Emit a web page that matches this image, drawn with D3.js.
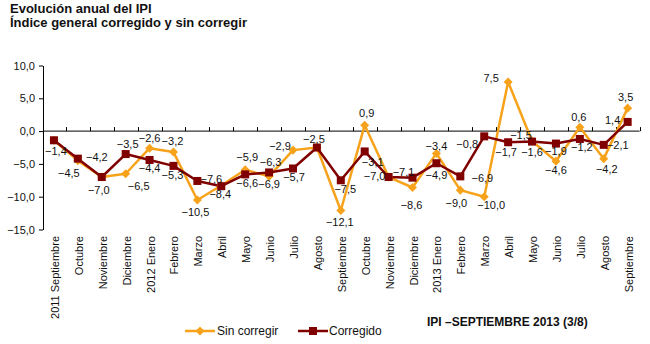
<!DOCTYPE html>
<html>
<head>
<meta charset="utf-8">
<script src="https://cdn.jsdelivr.net/npm/d3@7"></script>
<style>
  html, body { margin: 0; padding: 0; background: #fff; }
  svg { display: block; font-family: "Liberation Sans", Arial, sans-serif; }
</style>
</head>
<body>
<svg id="chart" width="650" height="344"></svg>
<script>
// Monthly categories, Sept 2011 – Sept 2013
const months = [
  "2011 Septiembre", "Octubre", "Noviembre", "Diciembre",
  "2012 Enero", "Febrero", "Marzo", "Abril", "Mayo", "Junio", "Julio", "Agosto",
  "Septiembre", "Octubre", "Noviembre", "Diciembre",
  "2013 Enero", "Febrero", "Marzo", "Abril", "Mayo", "Junio", "Julio", "Agosto",
  "Septiembre"
];

// Year-on-year change of the IPI (%)
const sinCorregir = [-1.4, -4.5, -7.0, -6.5, -2.6, -3.2, -10.5, -8.3, -5.9, -6.9, -2.9, -2.5,
                     -12.1, 0.9, -7.0, -8.6, -3.4, -9.0, -10.0, 7.5, -1.5, -4.6, 0.6, -4.2, 3.5];
const corregido   = [-1.4, -4.2, -7.0, -3.5, -4.4, -5.3, -7.6, -8.4, -6.6, -6.3, -5.7, -2.5,
                     -7.5, -3.1, -7.0, -7.1, -4.9, -6.9, -0.8, -1.7, -1.6, -1.9, -1.2, -2.1, 1.4];

const yTicks = [-15, -10, -5, 0, 5, 10];

// Where each value label sits relative to its marker [dx, dy]; null = no label
const nudgeSin = [[2, 11], [-9, 12], [-3, 13], [13, 12], [0, -10], [-1, -11], [-2, 12], null,
                  [2, -13], [0, 8], [-13, -4], [-3, -9], [-1, 12], [2, -12], [-14, -1], [-1, 17],
                  [0, -7], [-4, 13], [7, 8], [-17, -4], [-11, -6], [0, 9], [-1, -10], [3, 10], [-2, -11]];
const nudgeCor = [null, [19, -2], null, [2, -10], [0, 8], [-1, 9], [14, -2], [-1, 8],
                  [2, 8.5], [1.5, -10], [1, 8.5], null, [4.5, 9], [8, 11], null, [-9, -6],
                  [0, 12], [22, 2], [-17, 8], [-2, 9.5], [0, 10], [0, 7], [2, 8.5], [14, 0], [-15, -2]];

const ORANGE = "#F7A21B";
const MAROON = "#800000";

const svg = d3.select("#chart");
const fmt = v => d3.format(".1f")(v).replace(".", ",");

const x = d3.scaleBand().domain(d3.range(months.length)).range([42, 639.6]).padding(0);
const cx = i => x(i) + x.bandwidth() / 2;
const y = d3.scaleLinear().domain([-15, 10]).range([229.5, 65.5]);

// Titles
svg.append("text").attr("x", 10).attr("y", 13)
  .attr("font-size", 13).attr("font-weight", "bold").attr("fill", "#111")
  .text("Evolución anual del IPI");
svg.append("text").attr("x", 10).attr("y", 27)
  .attr("font-size", 13).attr("font-weight", "bold").attr("fill", "#111")
  .text("Índice general corregido y sin corregir");

// Value axis
const yAxis = svg.append("g").attr("transform", "translate(43,0)")
  .call(d3.axisLeft(y).tickValues(yTicks).tickSize(4).tickSizeOuter(0).tickFormat(fmt));
yAxis.select(".domain").attr("stroke", "#000");
yAxis.selectAll(".tick line").attr("stroke", "#000");
yAxis.selectAll(".tick text").attr("font-size", 11).attr("fill", "#111")
  .attr("font-family", "Liberation Sans, Arial, sans-serif").attr("x", -8);

// Category axis along zero
const catAxis = svg.append("g");
catAxis.append("line")
  .attr("x1", 43).attr("x2", x.range()[1]).attr("y1", y(0)).attr("y2", y(0))
  .attr("stroke", "#000");
catAxis.selectAll("line.tk").data(d3.range(1, months.length + 1)).join("line")
  .attr("class", "tk")
  .attr("x1", i => Math.round(x(0) + i * x.bandwidth()) + 0.5)
  .attr("x2", i => Math.round(x(0) + i * x.bandwidth()) + 0.5)
  .attr("y1", y(0) - 4).attr("y2", y(0))
  .attr("stroke", "#000");

// Month labels, rotated, hanging below the plot
svg.append("g").selectAll("text").data(months).join("text")
  .attr("transform", (d, i) => `translate(${cx(i) + 5},236) rotate(-90)`)
  .attr("text-anchor", "end")
  .attr("font-size", 11).attr("fill", "#111")
  .text(d => d);

// Lines
const line = d3.line().x((d, i) => cx(i)).y(d => y(d));
svg.append("path").datum(sinCorregir).attr("d", line)
  .attr("fill", "none").attr("stroke", ORANGE).attr("stroke-width", 2.5).attr("stroke-linejoin", "round");
svg.append("path").datum(corregido).attr("d", line)
  .attr("fill", "none").attr("stroke", MAROON).attr("stroke-width", 2.5).attr("stroke-linejoin", "round");

// Markers
const diamond = d3.symbol().type(d3.symbolDiamond2).size(52);
svg.append("g").selectAll("path").data(sinCorregir).join("path")
  .attr("d", diamond)
  .attr("transform", (d, i) => `translate(${cx(i)},${y(d)}) rotate(0)`)
  .attr("fill", ORANGE);
svg.append("g").selectAll("rect").data(corregido).join("rect")
  .attr("x", (d, i) => cx(i) - 4).attr("y", d => y(d) - 4)
  .attr("width", 8).attr("height", 8)
  .attr("fill", MAROON);

// Value labels
function labels(values, nudges) {
  svg.append("g").selectAll("text")
    .data(values.map((v, i) => ({ v, i, n: nudges[i] })).filter(d => d.n))
    .join("text")
    .attr("x", d => cx(d.i) + d.n[0])
    .attr("y", d => y(d.v) + d.n[1])
    .attr("text-anchor", "middle")
    .attr("dominant-baseline", "central")
    .attr("font-size", 11).attr("fill", "#111")
    .text(d => fmt(d.v));
}
labels(sinCorregir, nudgeSin);
labels(corregido, nudgeCor);

// Legend
const leg = svg.append("g");
leg.append("line").attr("x1", 185).attr("x2", 215).attr("y1", 331).attr("y2", 331)
  .attr("stroke", ORANGE).attr("stroke-width", 2.5);
leg.append("path").attr("d", diamond).attr("transform", "translate(200,331)").attr("fill", ORANGE);
leg.append("text").attr("x", 217).attr("y", 335).attr("font-size", 12).attr("fill", "#111").text("Sin corregir");
leg.append("line").attr("x1", 298).attr("x2", 328).attr("y1", 331).attr("y2", 331)
  .attr("stroke", MAROON).attr("stroke-width", 2.5);
leg.append("rect").attr("x", 309).attr("y", 327).attr("width", 8).attr("height", 8).attr("fill", MAROON);
leg.append("text").attr("x", 329).attr("y", 335).attr("font-size", 12).attr("fill", "#111").text("Corregido");

// Footer note
svg.append("text").attr("x", 427).attr("y", 326)
  .attr("font-size", 12).attr("font-weight", "bold").attr("fill", "#111")
  .text("IPI –SEPTIEMBRE 2013 (3/8)");
</script>
</body>
</html>
